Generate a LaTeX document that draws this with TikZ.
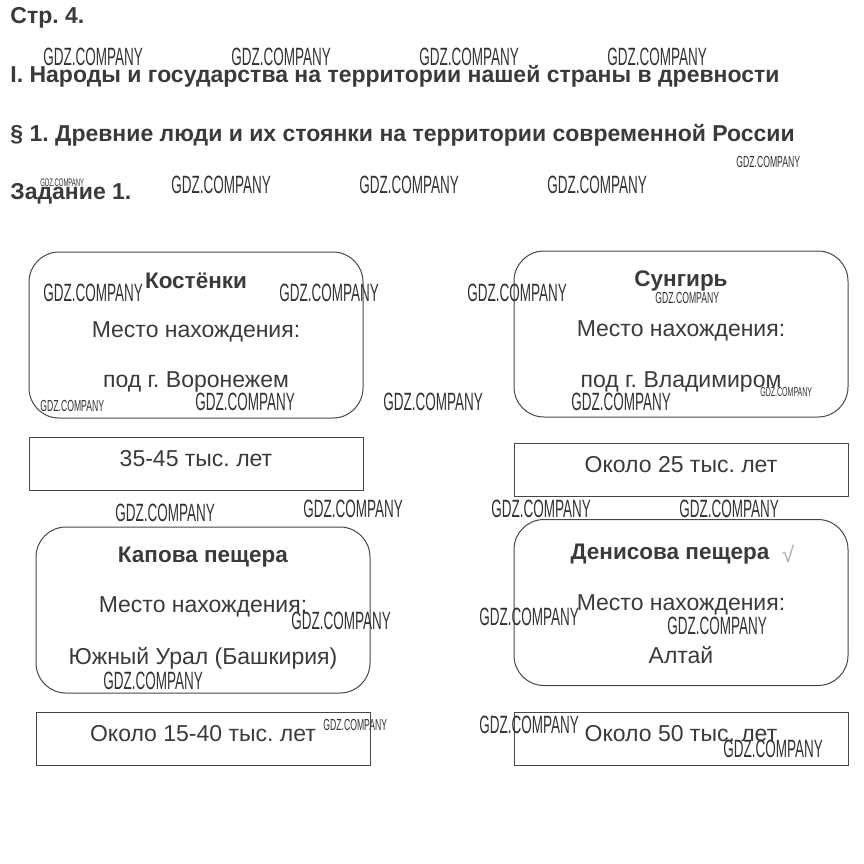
\documentclass[tikz,border=0pt]{standalone}
\usepackage{fontspec}
\setmainfont{Liberation Sans}
\newfontfamily\wmfont[FakeStretch=0.54]{Liberation Sans}
\usetikzlibrary{positioning}
\definecolor{textdark}{RGB}{58,58,58}
\definecolor{framegray}{RGB}{70,70,70}
\definecolor{markgray}{RGB}{50,50,50}
\definecolor{tickgray}{RGB}{170,170,170}
\frenchspacing

\begin{document}
\begin{tikzpicture}[
    x=0.5pt, y=-0.5pt,
    heading/.style={anchor=west, inner sep=0pt, font=\fontsize{11.5}{13}\selectfont\bfseries, text=textdark},
    site/.style={draw=framegray, line width=0.5pt, rounded corners=15pt, minimum width=167pt, minimum height=83pt, inner sep=0pt},
    agebox/.style={draw=framegray, line width=0.5pt, minimum width=167pt, minimum height=26.5pt, inner sep=0pt},
    title/.style={inner sep=0pt, font=\fontsize{11.25}{13}\selectfont\bfseries, text=textdark},
    entry/.style={inner sep=0pt, font=\fontsize{11.5}{13}\selectfont, text=textdark},
    wmark/.style={anchor=west, inner sep=0pt, font=\wmfont\fontsize{12.5}{13}\selectfont, text=markgray},
    wmsmall/.style={anchor=west, inner sep=0pt, font=\wmfont\fontsize{8}{9}\selectfont, text=markgray}
  ]
    \useasboundingbox (0,0) rectangle (864,864);

    % Headings
    \node[heading] (page) at (10, 18) {Стр. 4.};
    \node[heading] (part) at (10, 76) {I. Народы и государства на территории нашей страны в древности};
    \node[heading] (para) at (10, 135) {§ 1. Древние люди и их стоянки на территории современной России};
    \node[heading] (task) at (10, 194) {Задание 1.};

    % Sites
    \node[site] (kost) at (196, 335) {};
    \node[title] (kostname) at (196, 281) {Костёнки};
    \node[entry] (kostplace) at (196, 332) {Место нахождения:};
    \node[entry] (kostcity) at (196, 382) {под г. Воронежем};
    \node[agebox] (kostage) at (196, 463.5) {};
    \node[entry] at (kostage.center) [yshift=2.5pt] {35-45 тыс. лет};

    \node[site] (sung) at (681, 334) {};
    \node[title] (sungname) at (681, 281) {Сунгирь};
    \node[entry] (sungplace) at (681, 331) {Место нахождения:};
    \node[entry] (sungcity) at (681, 382) {под г. Владимиром};
    \node[agebox] (sungage) at (681, 469.5) {};
    \node[entry] at (sungage.center) [yshift=2.5pt] {Около 25 тыс. лет};

    \node[site] (kapova) at (203, 610) {};
    \node[title] (kapovaname) at (203, 557) {Капова пещера};
    \node[entry] (kapovaplace) at (203, 607) {Место нахождения:};
    \node[entry] (kapovaregion) at (203, 658) {Южный Урал (Башкирия)};
    \node[agebox] (kapovaage) at (203, 738.5) {};
    \node[entry] at (kapovaage.center) [yshift=2.5pt] {Около 15-40 тыс. лет};

    \node[site] (denis) at (681, 602.5) {};
    \node[title] (denisname) at (670, 554) {Денисова пещера};
    \node[inner sep=0pt, font=\fontsize{11}{13}\selectfont, text=tickgray, right=6pt of denisname] (denistick) {√};
    \node[entry] (denisplace) at (681, 605) {Место нахождения:};
    \node[entry] (denisregion) at (681, 655) {Алтай};
    \node[agebox] (denisage) at (681, 738.5) {};
    \node[entry] at (denisage.center) [yshift=2.5pt] {Около 50 тыс. лет};

    % Watermarks
    \foreach \wx/\wy in {43/57, 231/57, 419/57, 607/57, 171/185, 359/185, 547/185,
        43/293, 279/293, 467/293, 195/402, 383/402, 571/402,
        115/513, 303/509, 491/509, 679/509, 291/621, 479/617, 667/626,
        103/681, 479/725, 723/749}
      \node[wmark] at (\wx, \wy) {GDZ.COMPANY};
    \foreach \wx/\wy in {736/162, 655/298, 40/406, 323/725}
      \node[wmsmall] at (\wx, \wy) {GDZ.COMPANY};
    \node[wmsmall, font=\wmfont\fontsize{5.5}{6}\selectfont] at (40, 183) {GDZ.COMPANY};
    \node[wmsmall, font=\wmfont\fontsize{6.5}{7}\selectfont] at (760, 392) {GDZ.COMPANY};
\end{tikzpicture}
\end{document}
